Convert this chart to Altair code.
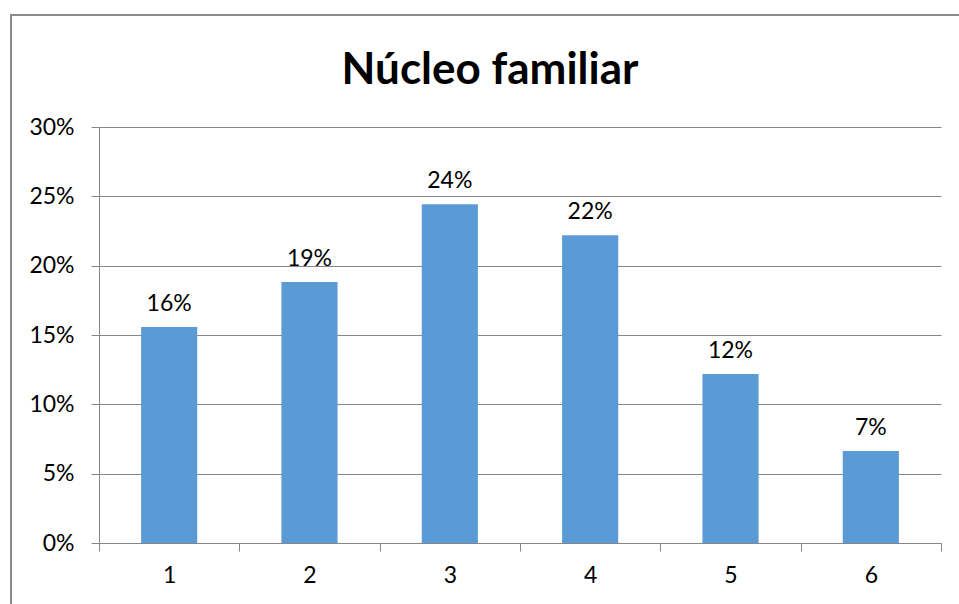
import altair as alt
import pandas as pd

categories = ["1", "2", "3", "4", "5", "6"]
values = [0.1558, 0.1882, 0.2443, 0.2219, 0.1219, 0.0663]
labels = ["16%", "19%", "24%", "22%", "12%", "7%"]
title_text = "Núcleo familiar"

df = pd.DataFrame({"cat": categories, "val": values, "lab": labels})

FONT = "Lato"
GRAY = "#868686"

base = alt.Chart(df)

xenc = alt.X("cat:N", sort=categories,
             scale=alt.Scale(paddingInner=0, paddingOuter=0),
             axis=alt.Axis(title=None, labelAngle=0, tickBand="extent",
                           domainColor=GRAY, tickColor=GRAY, tickSize=8,
                           labelFont=FONT, labelFontSize=23, labelColor="#000",
                           labelPadding=13, grid=False))
yenc = alt.Y("val:Q", scale=alt.Scale(domain=[0, 0.30]),
             axis=alt.Axis(title=None, format=".0%", values=[0, 0.05, 0.10, 0.15, 0.20, 0.25, 0.30],
                           domainColor=GRAY, tickColor=GRAY, tickSize=8,
                           gridColor=GRAY, gridWidth=1,
                           labelFont=FONT, labelFontSize=23, labelColor="#000",
                           labelPadding=17))

bars = base.mark_bar(color="#5B9BD5", width=alt.RelativeBandSize(0.4)).encode(x=xenc, y=yenc)
text = base.mark_text(baseline="bottom", dy=-11, font=FONT, fontSize=23, color="#000").encode(
    x=alt.X("cat:N", sort=categories), y="val:Q", text="lab:N")

border = alt.Chart(df).mark_rect(fill=None, stroke="#8c8c8c", strokeWidth=1.5).encode(
    x=alt.value(-88), y=alt.value(-112), x2=alt.value(960), y2=alt.value(700))

title = alt.Chart(pd.DataFrame({"t": [title_text]})).mark_text(
    font=FONT, fontSize=44, fontWeight="bold", color="#000", baseline="alphabetic", align="center"
).encode(x=alt.value(391), y=alt.value(-43), text="t:N")

chart = alt.layer(border, bars, text, title).properties(
    width=842, height=416,
    autosize=alt.AutoSizeParams(type="none"),
    padding={"left": 99, "top": 127, "right": 18, "bottom": 61},
).configure_view(stroke=None)

chart.save("out.html", embed_options={"renderer": "svg", "actions": False})
